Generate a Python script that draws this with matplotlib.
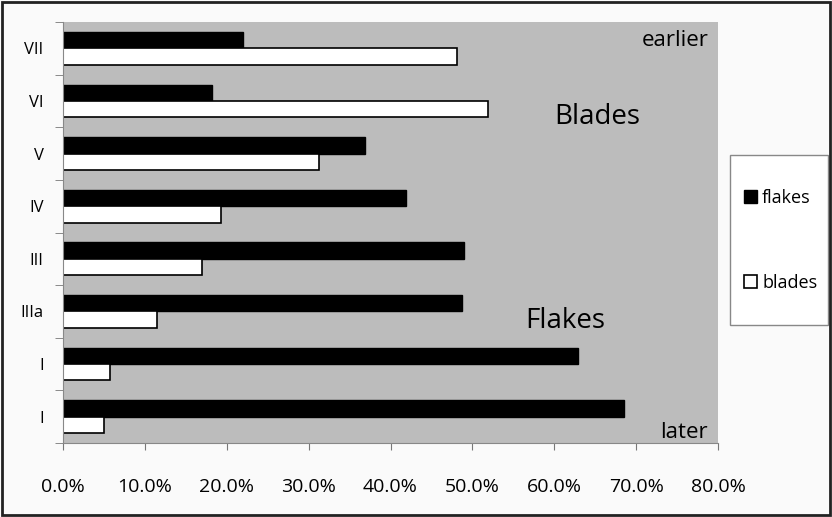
import matplotlib
matplotlib.use("Agg")
import matplotlib.pyplot as plt
import numpy as np
from matplotlib.ticker import FuncFormatter, FixedLocator
from matplotlib.patches import Rectangle

categories = ["I", "I", "IIIa", "III", "IV", "V", "VI", "VII"]  # bottom to top
flakes = [68.5, 62.9, 48.7, 49.0, 41.9, 36.9, 18.2, 22.0]
blades = [5.0, 5.8, 11.5, 17.0, 19.3, 31.3, 51.9, 48.1]
xticks = [0, 10, 20, 30, 40, 50, 60, 70, 80]

plt.rcParams['font.family'] = ['Open Sans', 'DejaVu Sans']

fig = plt.figure(figsize=(8.32, 5.17), dpi=100, facecolor='#fafafa')
ax = fig.add_axes([63/832, 1-443/517, (718-63)/832, (443-22)/517])
ax.set_facecolor('#bcbcbc')

y = np.arange(len(categories))
h = 0.31
ax.barh(y + h/2, flakes, height=h, color='black', edgecolor='black', linewidth=1, label='flakes')
ax.barh(y - h/2, blades, height=h, color='white', edgecolor='black', linewidth=1.2, label='blades')

ax.set_xlim(0, 80)
ax.set_ylim(-0.5, len(categories) - 0.5)
ax.set_xticks(xticks)
ax.xaxis.set_major_formatter(FuncFormatter(lambda v, p: f"{v:.1f}%"))
ax.set_yticks(y)
ax.set_yticklabels(categories)
ax.yaxis.set_minor_locator(FixedLocator(np.arange(-0.5, len(categories), 1)))
ax.tick_params(axis='y', which='major', length=0, pad=14, labelsize=12)
ax.tick_params(axis='y', which='minor', length=6, color='#777777', direction='out')
ax.tick_params(axis='x', which='major', length=5, color='#777777', labelsize=14, pad=20)

for s in ['top', 'right']:
    ax.spines[s].set_visible(False)
ax.spines['left'].set_color('#888888')
ax.spines['bottom'].set_color('#888888')

ax.text(0.985, 0.955, 'earlier', transform=ax.transAxes, ha='right', va='center', fontsize=16)
ax.text(0.815, 0.775, 'Blades', transform=ax.transAxes, ha='center', va='center', fontsize=20)
ax.text(0.767, 0.29, 'Flakes', transform=ax.transAxes, ha='center', va='center', fontsize=20)
ax.text(0.985, 0.025, 'later', transform=ax.transAxes, ha='right', va='center', fontsize=16)

leg = fig.legend(loc='upper left', bbox_to_anchor=(744/832, 1-189/517), frameon=False,
                 fontsize=13, labelspacing=3.7, handlelength=0.7, handleheight=0.7,
                 handletextpad=0.3, borderpad=0, borderaxespad=0)

fig.patches.append(Rectangle((730/832, 1-325/517), 98/832, 170/517, transform=fig.transFigure,
                             facecolor='white', edgecolor='#888888', linewidth=1, zorder=0))

fig.patches.append(Rectangle((0.002, 0.003), 0.996, 0.994, transform=fig.transFigure,
                             fill=False, edgecolor='#222222', linewidth=2))

fig.savefig('out.png', dpi=100, facecolor=fig.get_facecolor())
